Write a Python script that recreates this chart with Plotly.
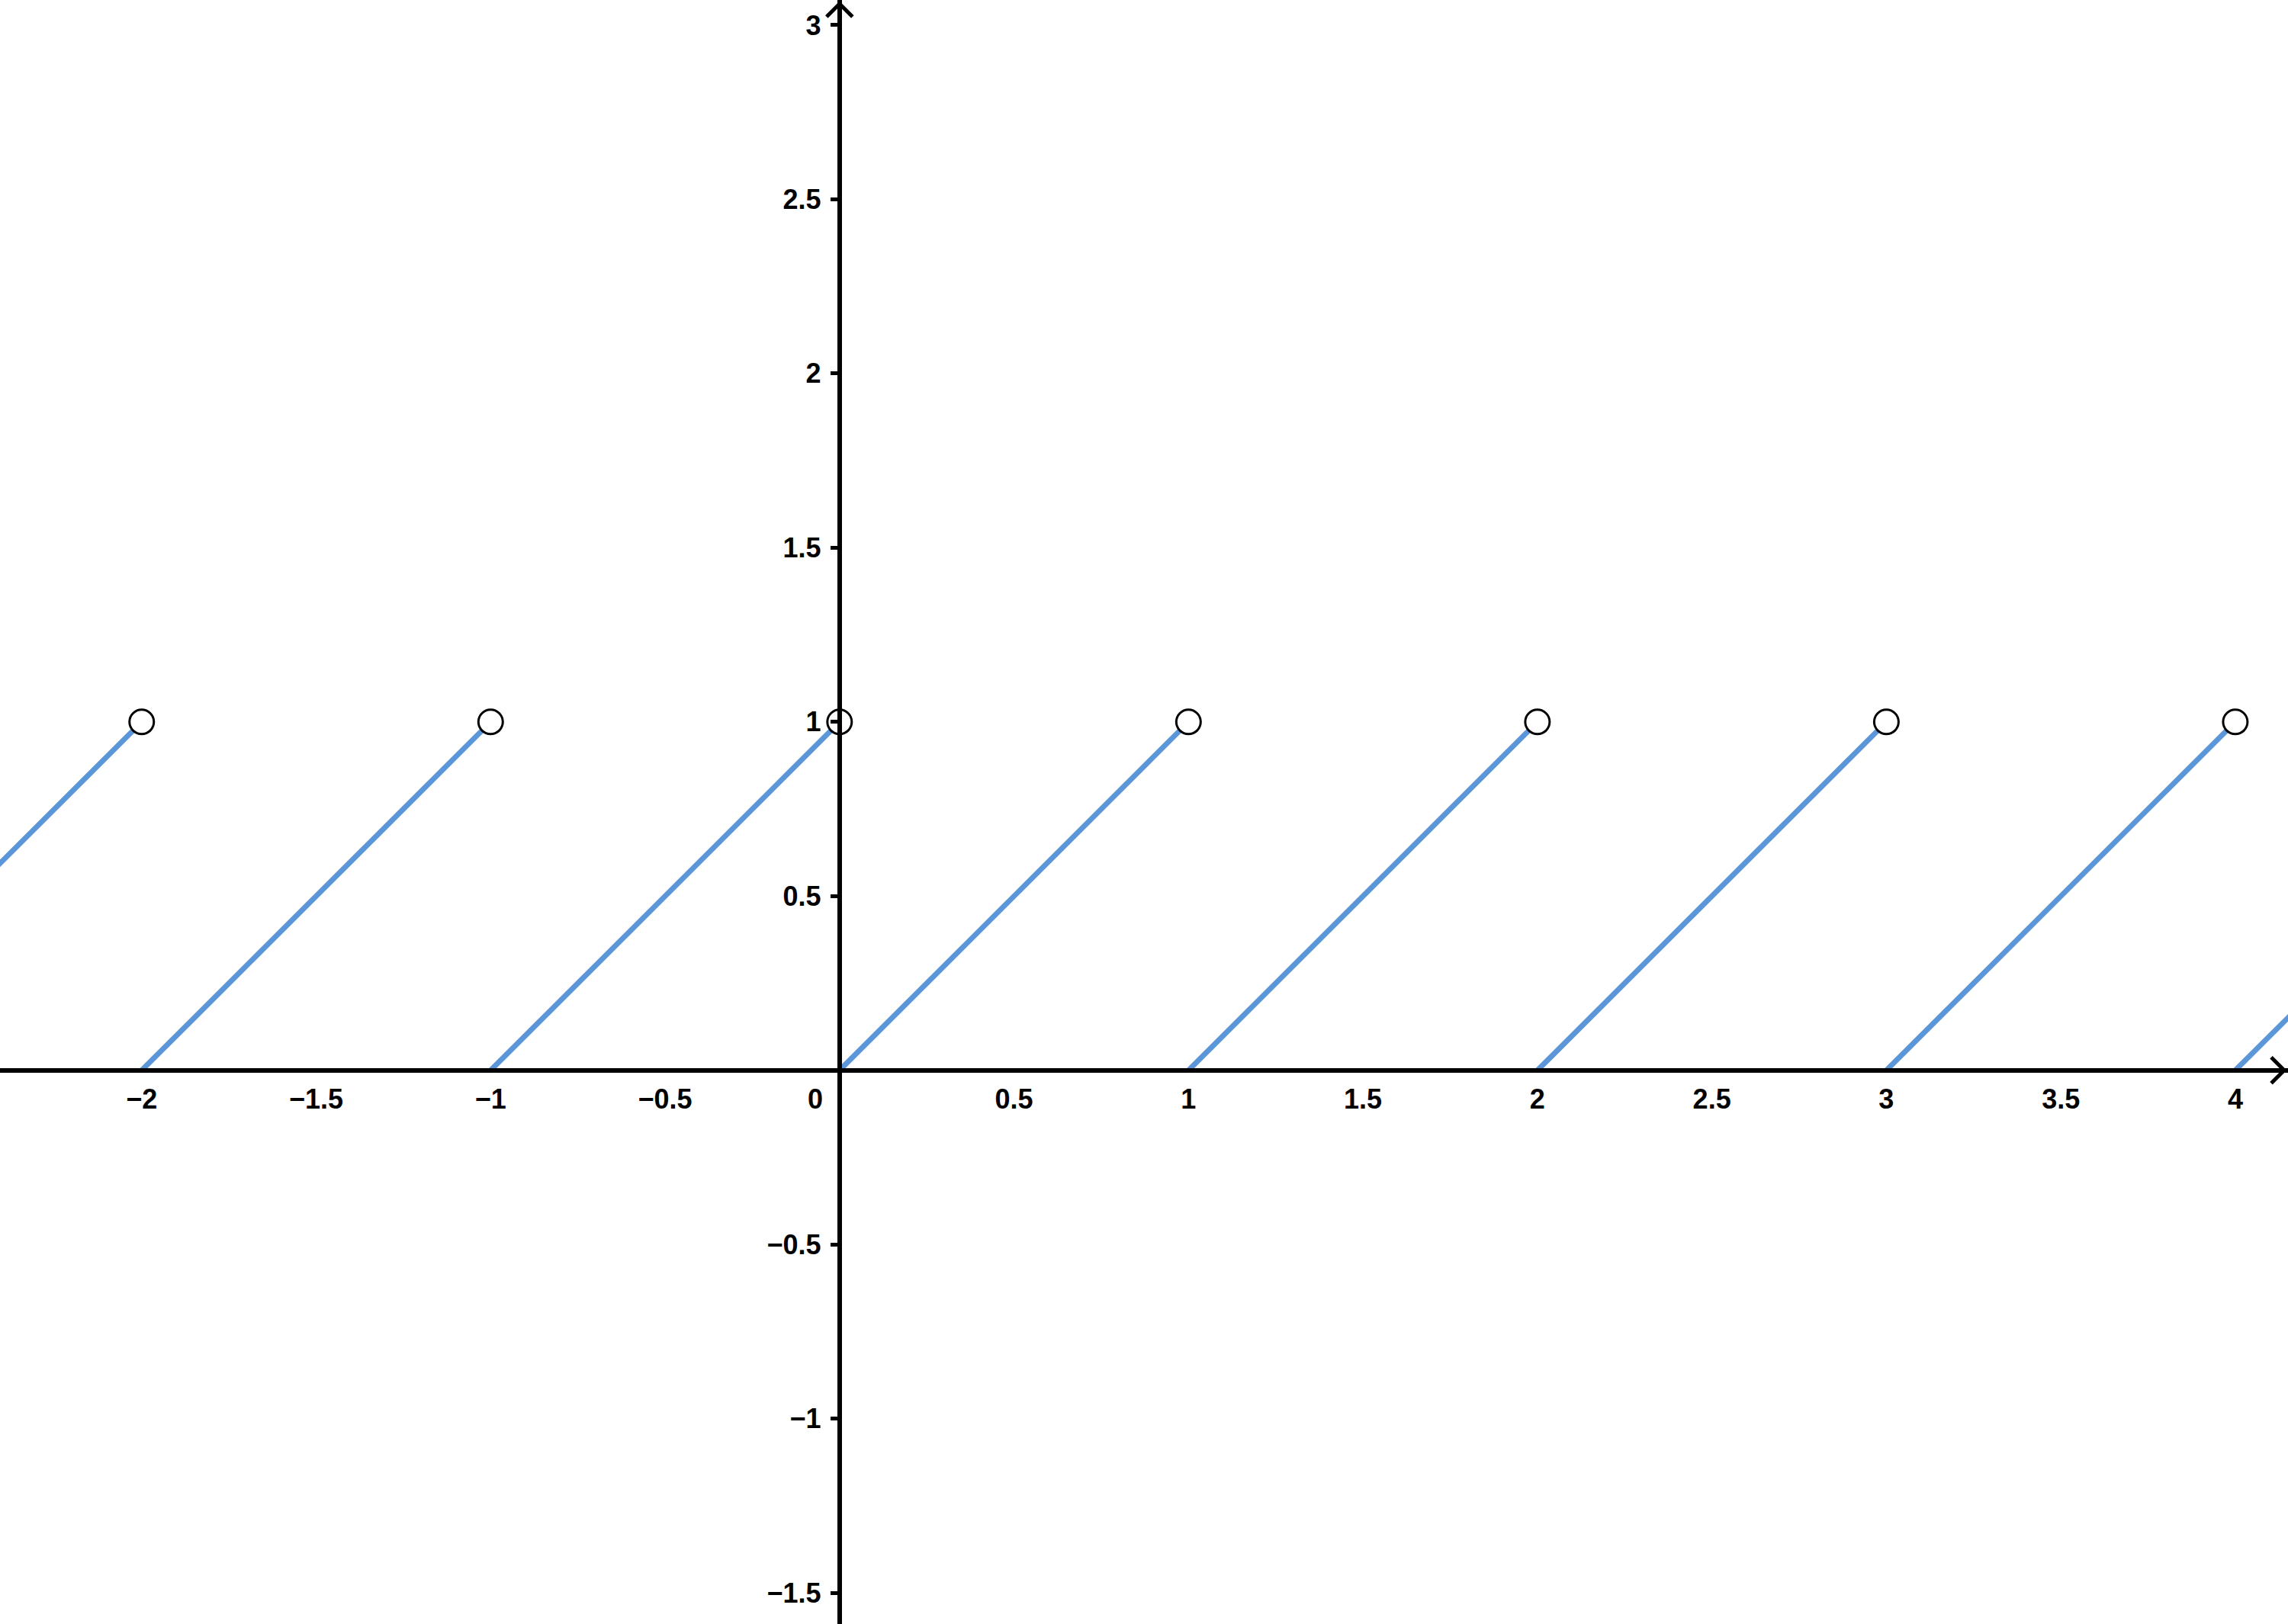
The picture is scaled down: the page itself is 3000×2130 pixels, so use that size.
import plotly.graph_objects as go

# segments of y = x - floor(x), as start/end points
seg_x0 = [-3, -2, -1, 0, 1, 2, 3, 4]
seg_y0 = [0, 0, 0, 0, 0, 0, 0, 0]
seg_x1 = [-2, -1, 0, 1, 2, 3, 4, 5]
seg_y1 = [1, 1, 1, 1, 1, 1, 1, 1]

# open (excluded) end points
hole_x = [-2, -1, 0, 1, 2, 3, 4]
hole_y = [1, 1, 1, 1, 1, 1, 1]

x_ticks = [-2, -1.5, -1, -0.5, 0.5, 1, 1.5, 2, 2.5, 3, 3.5, 4]
x_labels = ["−2", "−1.5", "−1", "−0.5", "0.5", "1", "1.5", "2", "2.5", "3", "3.5", "4"]
y_ticks = [-1.5, -1, -0.5, 0.5, 1, 1.5, 2, 2.5, 3]
y_labels = ["−1.5", "−1", "−0.5", "0.5", "1", "1.5", "2", "2.5", "3"]

X_RANGE = [-2.406, 4.151]
Y_RANGE = [-1.589, 3.072]

LINE_COLOR = "#5B96D8"
FONT = dict(family="Liberation Sans, Arial, sans-serif", size=36, color="black", weight="bold")

line_x, line_y = [], []
for a, b, c, d in zip(seg_x0, seg_y0, seg_x1, seg_y1):
    line_x += [a, c, None]
    line_y += [b, d, None]

fig = go.Figure()
fig.add_trace(go.Scatter(x=line_x, y=line_y, mode="lines",
                         line=dict(color=LINE_COLOR, width=7),
                         hoverinfo="skip"))
fig.add_trace(go.Scatter(x=hole_x, y=hole_y, mode="markers",
                         marker=dict(size=32, color="white",
                                     line=dict(color="black", width=3)),
                         hoverinfo="skip"))

# where the axes cross, as paper fractions
x0_paper = (0 - X_RANGE[0]) / (X_RANGE[1] - X_RANGE[0])
y0_paper = (0 - Y_RANGE[0]) / (Y_RANGE[1] - Y_RANGE[0])

fig.update_layout(
    width=3000, height=2130,
    margin=dict(l=0, r=0, t=0, b=0),
    paper_bgcolor="white", plot_bgcolor="white",
    showlegend=False,
    font=FONT,
    xaxis=dict(range=X_RANGE, anchor="free", position=y0_paper,
               showgrid=False, zeroline=False,
               showline=True, linecolor="black", linewidth=6,
               ticks="", tickmode="array", tickvals=x_ticks, ticktext=x_labels,
               tickfont=FONT, ticklabelstandoff=4),
    yaxis=dict(range=Y_RANGE, anchor="free", position=x0_paper,
               showgrid=False, zeroline=False,
               showline=True, linecolor="black", linewidth=6,
               ticks="outside", ticklen=9, tickwidth=5, tickcolor="black",
               tickmode="array", tickvals=y_ticks, ticktext=y_labels,
               tickfont=FONT, ticklabelstandoff=5),
    annotations=[dict(x=0, y=0, xref="x", yref="y", text="0", showarrow=False,
                      xanchor="center", yanchor="middle", xshift=-32, yshift=-38,
                      font=FONT)],
    shapes=[
        # arrow on the x axis
        dict(type="path", xref="paper", yref="y", xsizemode="pixel", ysizemode="pixel",
             xanchor=1, yanchor=0, path="M -22,17 L -5,0 L -22,-17",
             line=dict(color="black", width=5)),
        # arrow on the y axis
        dict(type="path", xref="x", yref="paper", xsizemode="pixel", ysizemode="pixel",
             xanchor=0, yanchor=1, path="M -17,-22 L 0,-5 L 17,-22",
             line=dict(color="black", width=5)),
    ],
)

# drop the default body margin so the plot sits at the page corner
fig.write_html("out.html", config={"displayModeBar": False},
               post_script="document.body.style.margin = '0';")
